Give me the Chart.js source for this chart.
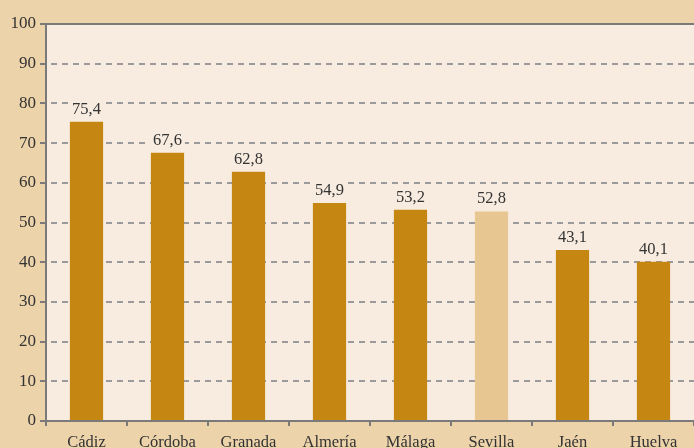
<!DOCTYPE html>
<html lang="es">
<head>
    <meta charset="UTF-8">
    <title>Provincias</title>
    <script src="https://cdn.jsdelivr.net/npm/chart.js@4.4.1/dist/chart.umd.min.js"></script>
    <style>
        html, body {
            margin: 0;
            padding: 0;
            background: #ecd3aa;
            overflow: hidden;
        }

        .chart-box {
            width: 694px;
            height: 448px;
        }
    </style>
</head>
<body>
    <div class="chart-box">
        <canvas id="chart" width="694" height="448"></canvas>
    </div>

    <script>
        const provincias = ['Cádiz', 'Córdoba', 'Granada', 'Almería', 'Málaga', 'Sevilla', 'Jaén', 'Huelva'];
        const valores = [75.4, 67.6, 62.8, 54.9, 53.2, 52.8, 43.1, 40.1];
        const yTicks = [0, 10, 20, 30, 40, 50, 60, 70, 80, 90, 100];

        const gold = '#c68712';
        const goldLight = '#e8c692';
        const plotBg = '#f8ece0';
        const lineGray = '#7a7a7a';
        const fontFamily = '"Liberation Serif", "DejaVu Serif", serif';

        // fill the plot area and draw the solid top border
        const plotArea = {
            id: 'plotArea',
            beforeDraw(chart) {
                const { ctx, chartArea: a } = chart;
                ctx.save();
                ctx.fillStyle = plotBg;
                ctx.fillRect(a.left, a.top, a.right - a.left, a.bottom - a.top);
                ctx.restore();
            },
            afterDraw(chart) {
                const { ctx, chartArea: a } = chart;
                ctx.save();
                ctx.strokeStyle = lineGray;
                ctx.lineWidth = 2;
                ctx.beginPath();
                ctx.moveTo(a.left - 6, a.top);
                ctx.lineTo(a.right, a.top);
                ctx.stroke();
                ctx.restore();
            }
        };

        // value labels above each bar, with decimal comma, on a patch of background
        const barLabels = {
            id: 'barLabels',
            afterDatasetsDraw(chart) {
                const { ctx } = chart;
                const meta = chart.getDatasetMeta(0);
                ctx.save();
                ctx.font = '16.5px ' + fontFamily;
                ctx.textAlign = 'center';
                ctx.textBaseline = 'alphabetic';
                meta.data.forEach((bar, i) => {
                    const txt = valores[i].toFixed(1).replace('.', ',');
                    const w = ctx.measureText(txt).width;
                    const base = bar.y - 8;
                    ctx.fillStyle = plotBg;
                    ctx.fillRect(bar.x - w / 2 - 3, base - 14, w + 6, 18);
                    ctx.fillStyle = '#333333';
                    ctx.fillText(txt, bar.x, base);
                });
                ctx.restore();
            }
        };

        new Chart(document.getElementById('chart'), {
            type: 'bar',
            data: {
                labels: provincias,
                datasets: [{
                    data: valores,
                    backgroundColor: provincias.map(p => p === 'Sevilla' ? goldLight : gold),
                    barPercentage: 0.41,
                    categoryPercentage: 1
                }]
            },
            options: {
                responsive: false,
                animation: false,
                layout: { padding: { top: 24, left: 0, right: 0, bottom: 0 } },
                plugins: {
                    legend: { display: false },
                    tooltip: { enabled: false }
                },
                scales: {
                    x: {
                        afterFit(scale) { scale.height = 27; },
                        grid: {
                            drawOnChartArea: false,
                            drawTicks: true,
                            tickLength: 5,
                            color: lineGray,
                            lineWidth: 2
                        },
                        border: { color: lineGray, width: 2 },
                        ticks: {
                            color: '#333333',
                            padding: 7,
                            font: { family: fontFamily, size: 16.5 }
                        }
                    },
                    y: {
                        min: 0,
                        max: 100,
                        afterFit(scale) { scale.width = 46; },
                        afterBuildTicks(scale) {
                            scale.ticks = yTicks.map(v => ({ value: v }));
                        },
                        grid: {
                            color: '#9a9a9a',
                            lineWidth: 2,
                            tickLength: 6,
                            tickColor: lineGray,
                            tickBorderDash: []
                        },
                        border: { color: lineGray, width: 2, dash: [6, 5], dashOffset: -4 },
                        ticks: {
                            color: '#333333',
                            padding: 4,
                            font: { family: fontFamily, size: 17 }
                        }
                    }
                }
            },
            plugins: [plotArea, barLabels]
        });
    </script>
</body>
</html>
